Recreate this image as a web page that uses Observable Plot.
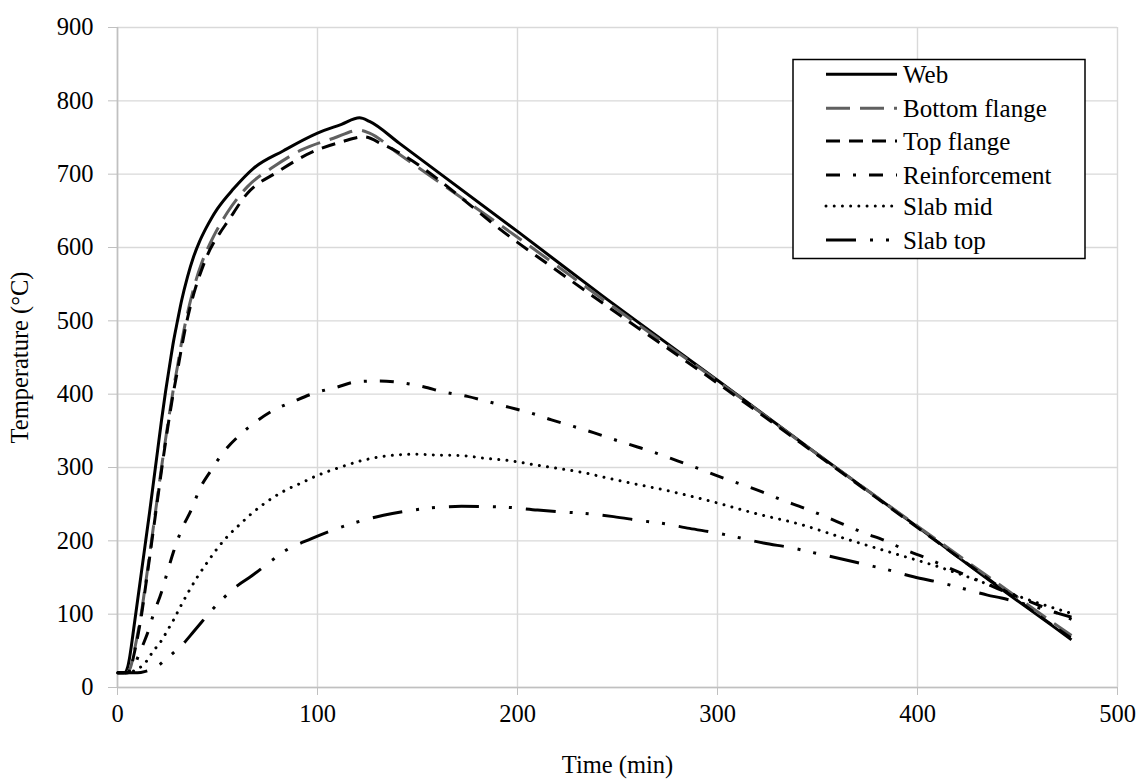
<!DOCTYPE html>
<html>
<head>
<meta charset="utf-8">
<script src="https://cdn.jsdelivr.net/npm/d3@7"></script>
<script src="https://cdn.jsdelivr.net/npm/@observablehq/plot@0.6"></script>
<style>
  html, body { margin: 0; padding: 0; background: #fff; }
  #wrap { position: relative; width: 1142px; height: 781px; font-family: "Liberation Serif", "Times New Roman", serif; }
  #legend { position: absolute; left: 0; top: 0; }
</style>
</head>
<body>
<div id="wrap"></div>
<script>
// ---- data (time in min, temperature in °C) ----
const webTime = [0,3,4,5,6,7,8,10,12,14,16,18,20,22,24,26,28,30,32,35,38,41,44,47,50,58,68,83,100,112,121,126,141,200,242,300,350,400,438,468,477];
const webTemp = [20,20,21,27,40,58,78,118,158,198,238,280,322,364,403,438,472,500,527,560,587,608,625,640,653,680,708,732,756,768,777,772,742,622,535,419,318,219,142,83,65];

const bottomTime = [0,4,5,6,7,8,10,12,14,16,18,20,22,24,26,28,30,32,34,36,39,42,45,48,51,55,65,78,92,108,121,126,140,200,250,300,350,400,438,468,477];
const bottomTemp = [20,20,21,24,32,45,72,103,141,180,220,260,300,338,374,408,438,470,498,522,553,578,598,615,630,648,683,710,733,749,760,756,729,614,515,418,318,220,146,88,71];

const topTime = [0,4,5,6,7,8,10,12,14,16,18,20,22,24,26,28,30,32,34,36,39,42,45,48,51,55,65,80,98,112,123,133,200,250,300,350,400,438,468,477];
const topTemp = [20,20,20,23,30,42,68,99,137,176,216,256,296,334,370,403,432,463,491,515,545,569,590,606,619,635,674,703,731,744,751,740,607,510,415,317,218,143,84,67];

const reinfTime = [0,5,8,10,13,15,18,22,25,28,32,37,41,47,53,61,69,78,88,99,109,120,131,142,153,163,175,185,196,207,217,228,238,249,260,270,280,291,301,312,322,332,343,353,363,373,384,394,404,414,440,466,477];
const reinfTemp = [20,20,26,40,60,74,100,130,158,185,215,243,270,297,321,344,362,378,390,402,409,417,418,415.6,410,403,397,390,382,374,365,356,347.5,337.5,328,319,309,298,287.5,277,267,256,245,234,222.5,211,200,187.5,177,165,135,106,93];

const midTime = [0,6,9,13,18,22,25,28,31,35,40,45,50,55,61,67,73,84,92,99,111,123,135,148,160,173,184,197,209,222,233,246,258,274,298,318,342,365,388,410,432,453,471,477];
const midTemp = [20,20,24,31,50,64,78,92,108,128,151,171,190,206,222,237,250,269,279,288,300,310,316,318,317,316,312.5,309,303.5,298,293,285,278,269,253,238,222,202,183,165,144,122,106,101];

const slabTopTime = [0,10,14,18,21,24,27,33,38,42,47,53,60,67,77,83,97,111,119,133,148,157,172,187,195,210,225,233,248,263,272,286,301,308,323,338,346,361,375,383,398,413,420,435,442,460,477];
const slabTopTemp = [20,20,22,26,31,38,45,60,76,89,105,122,139,152,173,185,203,218,225,235,242,245,247,246.6,245.7,242,239,237.5,233,227,224,217,210,206,197,190,185,176,167,162,151,142,137,126,122,109,96];

const seriesNames = ["Web","Bottom flange","Top flange","Reinforcement","Slab mid","Slab top"];
const xTicks = [0,100,200,300,400,500];
const yTicks = [0,100,200,300,400,500,600,700,800,900];

// ---- styles ----
const styles = [
  {stroke:"#000000", dash:null, width:3, cap:"butt"},
  {stroke:"#606060", dash:"24,10", width:3, cap:"butt"},
  {stroke:"#000000", dash:"14,9", width:3, cap:"butt"},
  {stroke:"#000000", dash:"14,13,3,13", width:3, cap:"butt"},
  {stroke:"#000000", dash:"0.01,8.2", width:3, cap:"round"},
  {stroke:"#000000", dash:"30,14,3,13,3,14", width:3, cap:"butt"}
];

const toRows = (ts, vs) => ts.map((t, i) => ({t, v: vs[i]}));
const allSeries = [
  toRows(webTime, webTemp),
  toRows(bottomTime, bottomTemp),
  toRows(topTime, topTemp),
  toRows(reinfTime, reinfTemp),
  toRows(midTime, midTemp),
  toRows(slabTopTime, slabTopTemp)
];

const font = "'Liberation Serif', 'Times New Roman', serif";
const lineMarks = allSeries.map((rows, i) => Plot.line(rows, {
  x: "t", y: "v", curve: "monotone-x",
  stroke: styles[i].stroke, strokeWidth: styles[i].width,
  strokeDasharray: styles[i].dash, strokeLinecap: styles[i].cap,
  strokeLinejoin: "round"
}));

const chart = Plot.plot({
  width: 1142, height: 781,
  marginLeft: 117, marginRight: 25, marginTop: 27, marginBottom: 94,
  style: {fontFamily: font, background: "#fff", color: "#000"},
  x: {domain: [0, 500]},
  y: {domain: [0, 900]},
  marks: [
    Plot.gridX(xTicks, {stroke: "#d9d9d9", strokeOpacity: 1, strokeWidth: 1.4}),
    Plot.gridY(yTicks, {stroke: "#d9d9d9", strokeOpacity: 1, strokeWidth: 1.4}),
    Plot.ruleY([0], {stroke: "#c0c0c0", strokeWidth: 1.6}),
    Plot.ruleX([0], {stroke: "#c0c0c0", strokeWidth: 1.6}),
    Plot.axisX(xTicks, {tickSize: 8, tickPadding: 9, stroke: "#c0c0c0", fill: "#000", fontSize: 24.5,
      tickFormat: d => String(d),
      label: "Time (min)", labelAnchor: "center", labelOffset: 85, labelArrow: "none"}),
    Plot.axisY(yTicks, {tickSize: 9, tickPadding: 15, stroke: "#c0c0c0", fill: "#000", fontSize: 24.5,
      tickFormat: d => String(d),
      label: "Temperature (°C)", labelAnchor: "center", labelOffset: 107, labelArrow: "none"}),
    ...lineMarks
  ]
});

const wrap = document.getElementById("wrap");
wrap.appendChild(chart);

// ---- legend overlay ----
const lg = d3.select(wrap).append("svg")
  .attr("id", "legend")
  .attr("width", 1142).attr("height", 781)
  .style("pointer-events", "none");
const box = {x: 793, y: 59.5, w: 292, h: 199};
lg.append("rect").attr("x", box.x).attr("y", box.y).attr("width", box.w).attr("height", box.h)
  .attr("fill", "#fff").attr("stroke", "#000").attr("stroke-width", 1.5);
const rowY = [74.3, 108.3, 141, 175, 206, 240];
seriesNames.forEach((name, i) => {
  const s = styles[i];
  lg.append("line").attr("x1", 826).attr("x2", 897).attr("y1", rowY[i]).attr("y2", rowY[i])
    .attr("stroke", s.stroke).attr("stroke-width", s.width)
    .attr("stroke-dasharray", s.dash).attr("stroke-linecap", s.cap);
  lg.append("text").attr("x", 903).attr("y", rowY[i] + 9)
    .attr("font-family", font).attr("font-size", 25).attr("fill", "#000")
    .text(name);
});
</script>
</body>
</html>
